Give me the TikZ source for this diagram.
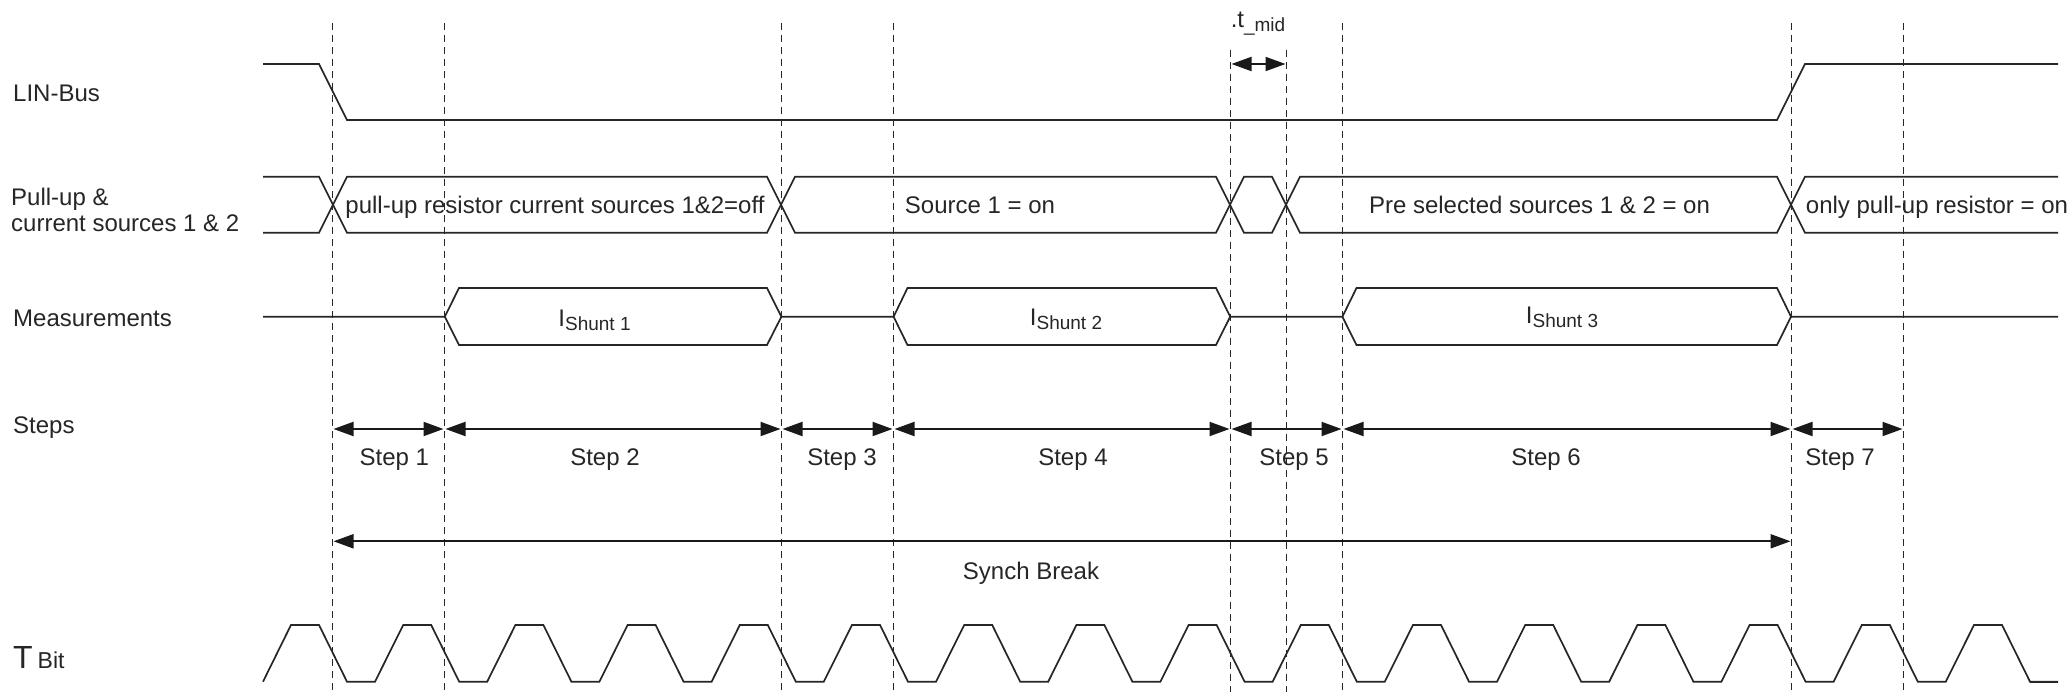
\documentclass[tikz,border=0pt]{standalone}
\usepackage{fontspec}
\setmainfont{Liberation Sans}
\usetikzlibrary{arrows.meta}
\tikzset{
  x=1pt,y=-1pt,
  wave/.style={draw=black!85,line width=1.7pt,line join=miter},
  guide/.style={draw=black!85,line width=1.8pt,dash pattern=on 7pt off 5pt},
  dim/.style={draw=black!90,line width=2pt,{Triangle[length=20pt,width=14pt]}-{Triangle[length=20pt,width=14pt]},shorten >=1pt,shorten <=1pt},
  lbl/.style={anchor=base,inner sep=0pt,text=black!85,font=\fontsize{24}{28}\selectfont},
  leftlbl/.style={lbl,anchor=base west},
}
\newcommand{\ishunt}[1]{I\raisebox{-4pt}{\fontsize{19}{22}\selectfont Shunt #1}}
\begin{document}
\begin{tikzpicture}
\useasboundingbox (0,0) rectangle (2072,692);
\fill[white] (0,0) rectangle (2072,692);
% guide lines
\foreach \n/\px/\ty in {1/332.5/23,2/444.5/23,3/781.5/23,4/893.5/23,5/1230.5/50,6/1286.5/50,7/1342.5/23,8/1791.5/23,9/1903.5/23}{
  \coordinate (t\n) at (\px,\ty);
  \coordinate (b\n) at (\px,692);
  \coordinate (s\n) at (\px,429);
  \coordinate (k\n) at (\px,541.3);
  \coordinate (m\n) at (\px,64);
  \draw[guide] (t\n) -- (b\n);
}
% LIN-Bus
\draw[wave] (263,64) -- (319,64) -- (347,120) -- (1777,120) -- (1805,64) -- (2058,64);
% Pull-up & current sources
\draw[wave] (263,176.7) -- (319,176.7) -- (347,232.7) -- (767,232.7) -- (795,176.7) -- (1216,176.7) -- (1244,232.7) -- (1272,232.7) -- (1300,176.7) -- (1777,176.7) -- (1805,232.7) -- (2058,232.7);
\draw[wave] (263,232.7) -- (319,232.7) -- (347,176.7) -- (767,176.7) -- (795,232.7) -- (1216,232.7) -- (1244,176.7) -- (1272,176.7) -- (1300,232.7) -- (1777,232.7) -- (1805,176.7) -- (2058,176.7);
% Measurements
\draw[wave] (263,316.7) -- (444.8,316.7) -- (459,288) -- (767,288) -- (781.4,316.7) -- (893.6,316.7) -- (907.5,288) -- (1216,288) -- (1230.2,316.7) -- (1342.4,316.7) -- (1356.5,288) -- (1777,288) -- (1791,316.7) -- (2058,316.7);
\draw[wave] (444.8,316.7) -- (459,345) -- (767,345) -- (781.4,316.7);
\draw[wave] (893.6,316.7) -- (907.5,345) -- (1216,345) -- (1230.2,316.7);
\draw[wave] (1342.4,316.7) -- (1356.5,345) -- (1777,345) -- (1791,316.7);
% T Bit
\draw[wave] (263,681.7)
  \foreach \k in {0,...,15}{
    -- ({291+112.2*\k},625) -- ({319+112.2*\k},625) -- ({347+112.2*\k},681.7) -- ({375+112.2*\k},681.7)
  };
\draw[wave] (2030,681.7) -- (2058,681.7);
% dimension arrows
\draw[dim] (m5) -- (m6);
\draw[dim] (s1) -- (s2);
\draw[dim] (s2) -- (s3);
\draw[dim] (s3) -- (s4);
\draw[dim] (s4) -- (s5);
\draw[dim] (s5) -- (s7);
\draw[dim] (s7) -- (s8);
\draw[dim] (s8) -- (s9);
\draw[dim] (k1) -- (k8);
% left labels
\node[leftlbl] (lLin) at (13,101.5) {LIN-Bus};
\node[leftlbl] (lPull) at (11,205.5) {Pull-up \&};
\node[leftlbl] (lCur) at (11,232) {current sources 1 \& 2};
\node[leftlbl] (lMeas) at (13,326.5) {Measurements};
\node[leftlbl] (lSteps) at (13,433) {Steps};
\node[leftlbl] (lT) at (13,668.5) {\fontsize{32}{34}\selectfont T\hspace{5pt}\fontsize{23}{26}\selectfont Bit};
% phase labels
\node[lbl] (pA) at (555,214) {pull-up resistor current sources 1\&2=off};
\node[lbl] (pB) at (980,214) {Source 1 = on};
\node[lbl] (pC) at (1539.5,214) {Pre selected sources 1 \& 2 = on};
\node[lbl] (pD) at (1937,214) {only pull-up resistor = on};
\node[lbl] (i1) at (594.5,327) {\ishunt{1}};
\node[lbl] (i2) at (1066,326) {\ishunt{2}};
\node[lbl] (i3) at (1562,324) {\ishunt{3}};
% step labels
\node[lbl] (st1) at (394.4,465.5) {Step 1};
\node[lbl] (st2) at (605,465.5) {Step 2};
\node[lbl] (st3) at (842,465.5) {Step 3};
\node[lbl] (st4) at (1073,465.5) {Step 4};
\node[lbl] (st5) at (1294,465.5) {Step 5};
\node[lbl] (st6) at (1546,465.5) {Step 6};
\node[lbl] (st7) at (1840,465.5) {Step 7};
\node[lbl] (sb) at (1031,579) {Synch Break};
\node[lbl] (tm) at (1258,28) {.t\raisebox{-4pt}{\fontsize{19}{22}\selectfont\_mid}};
\end{tikzpicture}
\end{document}
